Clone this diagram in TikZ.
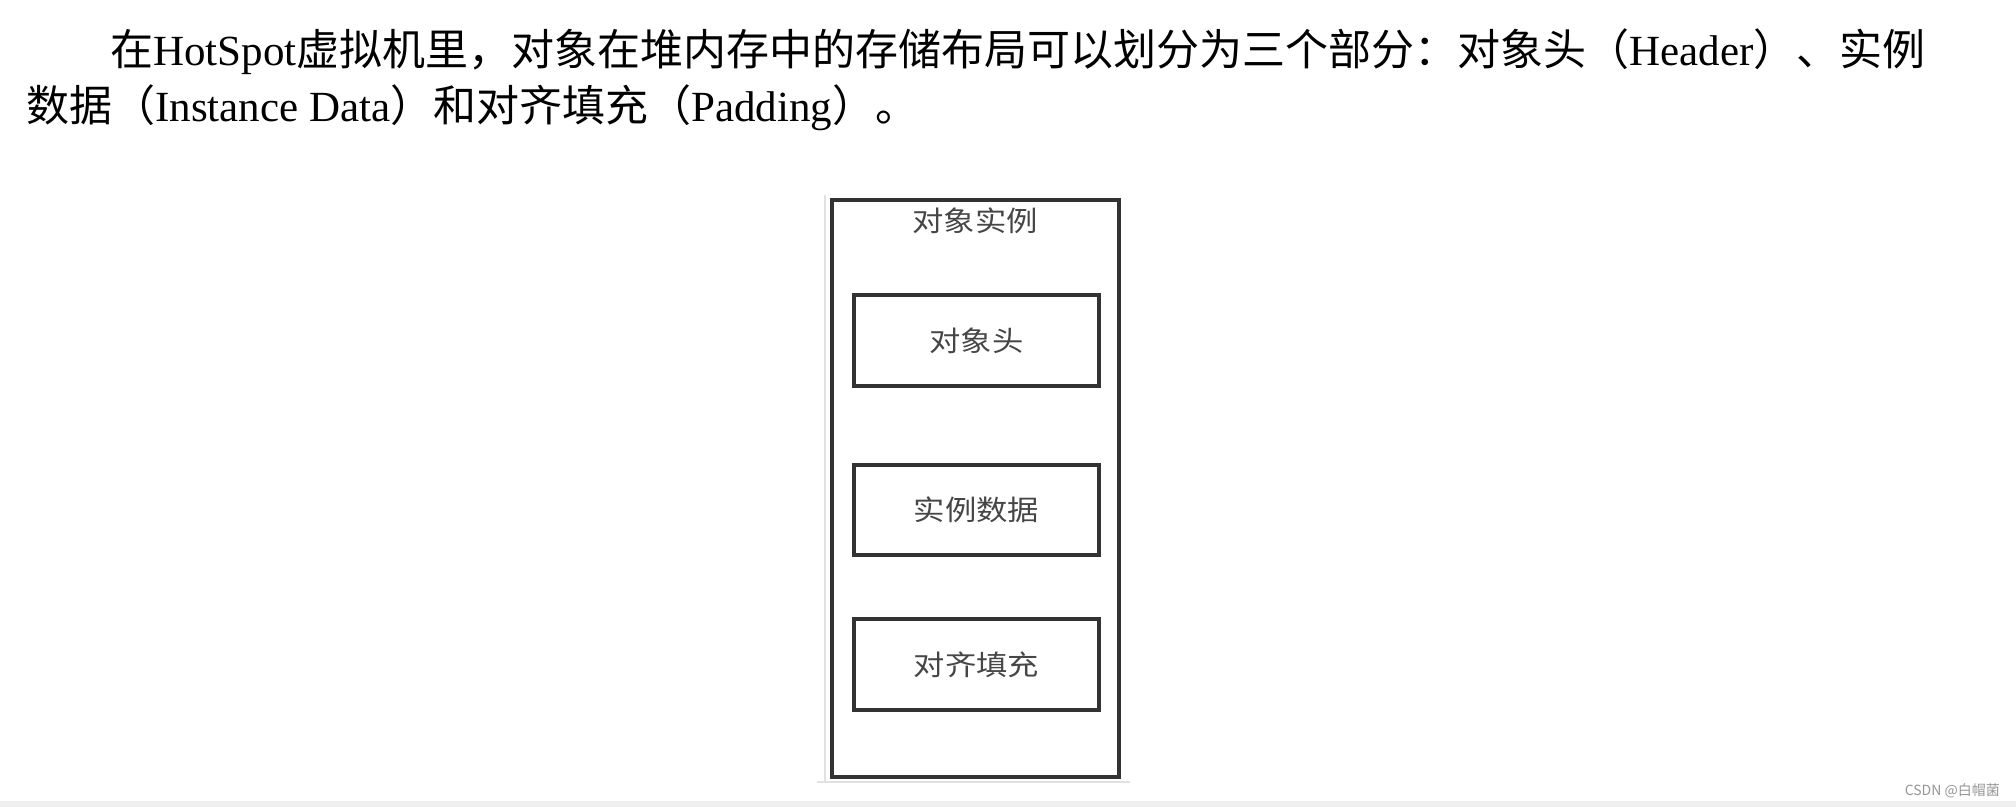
\documentclass[tikz,border=0pt]{standalone}
\usepackage{fontspec}
\setmainfont{Liberation Serif}
\newfontfamily\cjk{Noto Sans CJK SC}
\newfontfamily\diagfont[FakeStretch=1.12]{Noto Sans CJK SC}
\newfontfamily\wmfont{Noto Sans CJK SC}
\definecolor{boxline}{RGB}{51,51,51}
\definecolor{labeltext}{RGB}{70,70,70}
\definecolor{faint}{RGB}{225,225,225}
\definecolor{band}{RGB}{239,239,239}
\definecolor{wmgray}{RGB}{150,150,150}
\tikzset{
  outerbox/.style={draw=boxline, line width=4.5pt, rectangle, inner sep=0pt},
  partbox/.style={draw=boxline, line width=4pt, rectangle, inner sep=0pt,
    minimum width=245pt, font=\diagfont\fontsize{28}{30}\selectfont, text=labeltext},
  bodytext/.style={anchor=base west, inner sep=0pt, font=\fontsize{43}{50}\selectfont, text=black},
  titletext/.style={inner sep=0pt, font=\diagfont\fontsize{28}{30}\selectfont, text=labeltext},
}
\begin{document}
\begin{tikzpicture}[x=1pt,y=-1pt]
\useasboundingbox (0,0) rectangle (2016,807);
\fill[white] (0,0) rectangle (2016,807);
\fill[band] (0,801) rectangle (2016,807);
% paragraph
\node[bodytext] (line1) at (110,65) {{\cjk 在}HotSpot{\cjk 虚拟机里，对象在堆内存中的存储布局可以划分为三个部分：对象头（}Header{\cjk ）、实例}};
\node[bodytext] (line2) at (26,121) {{\cjk 数据（}Instance Data{\cjk ）和对齐填充（}Padding{\cjk ）。}};
% faint frame behind figure
\coordinate (fa) at (825,195);
\coordinate (fb) at (825,782);
\coordinate (fc) at (817,782);
\coordinate (fd) at (1130,782);
\draw[faint, line width=1.5pt] (fa) -- (fb);
\draw[faint, line width=1.5pt] (fc) -- (fd);
% diagram
\node[outerbox, minimum width=287pt, minimum height=577pt] (obj) at (975.5,488.5) {};
\node[titletext] (title) at (975,221) {对象实例};
\node[partbox, minimum height=91pt] (header) at (976.5,340.5) {对象头};
\node[partbox, minimum height=90pt] (data) at (976.5,510) {实例数据};
\node[partbox, minimum height=91pt] (pad) at (976.5,664.5) {对齐填充};
% watermark
\node[anchor=east, inner sep=0pt, font=\wmfont\fontsize{14}{16}\selectfont, text=wmgray] (wm) at (2000,791) {CSDN @白帽菌};
\end{tikzpicture}
\end{document}
